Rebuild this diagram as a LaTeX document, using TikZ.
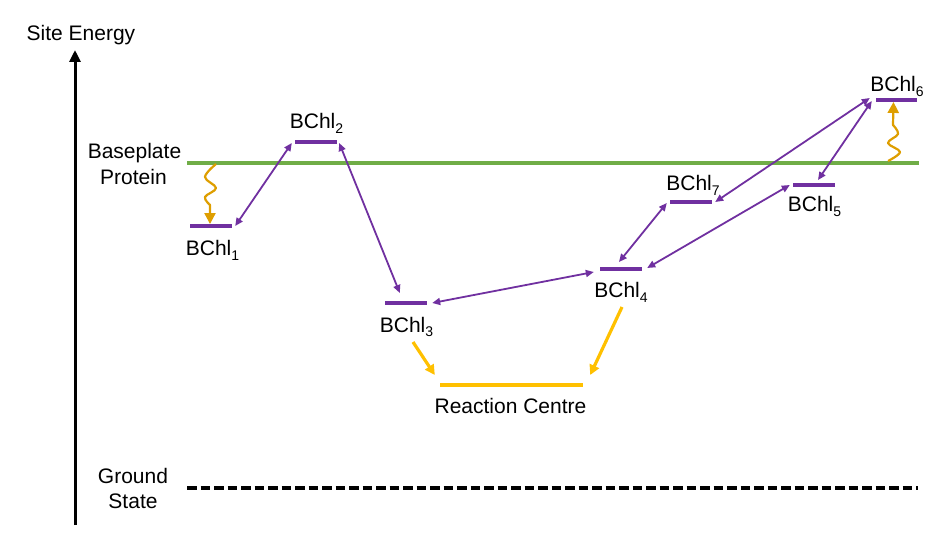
\documentclass[tikz,border=0pt]{standalone}
\usepackage{fontspec}
\setmainfont{Liberation Sans}
\usetikzlibrary{arrows.meta,calc}
\definecolor{lvpurple}{RGB}{112,48,160}
\definecolor{bpgreen}{RGB}{112,173,71}
\definecolor{rcyellow}{RGB}{255,192,0}
\definecolor{wvorange}{RGB}{222,158,0}
\newcommand\lsub[1]{\raisebox{-0.22em}{\fontsize{14}{14}\selectfont #1}}
\begin{document}
\begin{tikzpicture}[x=1pt,y=-1pt,
 txt/.style={font=\fontsize{21}{25}\selectfont, inner sep=0pt, anchor=base},
 level/.style={draw=none, fill=lvpurple, minimum width=42pt, minimum height=3.5pt, inner sep=0pt},
 xfer/.style={lvpurple, line width=1.8pt, {Triangle[length=8pt,width=7pt]}-{Triangle[length=8pt,width=7pt]}},
 trap/.style={rcyellow, line width=3.2pt, -{Triangle[length=10pt,width=10pt]}},
 wavy/.style={wvorange, line width=2.2pt, line join=round, -{Triangle[length=11pt,width=11pt]}},
]
\useasboundingbox (0,0) rectangle (948,556);

% axis
\coordinate (axb) at (75,525);
\coordinate (axt) at (75,50);
\draw[line width=3pt, -{Triangle[length=12pt,width=11pt]}] (axb) -- (axt);
\node[txt] (site) at (81,41) {Site Energy};

% baseplate and ground state
\coordinate (bpL) at (187,163);
\coordinate (bpR) at (919,163);
\draw[bpgreen, line width=3.2pt] (bpL) -- (bpR);
\node[txt] (bp1) at (134.5,159) {Baseplate};
\node[txt] (bp2) at (133.5,185) {Protein};

\coordinate (gsL) at (187,488);
\coordinate (gsR) at (918,488);
\draw[line width=3.3pt, dash pattern=on 9.5pt off 4pt] (gsL) -- (gsR);
\node[txt] (gs1) at (133,483) {Ground};
\node[txt] (gs2) at (133,508) {State};

% levels
\node[level] (b1) at (211,226) {};
\node[level] (b2) at (316,142) {};
\node[level] (b3) at (406,303) {};
\node[level] (b4) at (621,269) {};
\node[level] (b5) at (814,185) {};
\node[level, minimum width=41pt] (b6) at (896.5,100) {};
\node[level] (b7) at (691,202) {};
\node[level, fill=rcyellow, minimum width=143pt] (rc) at (511.5,385) {};

\node[txt] (l1) at (212.5,256) {BChl\lsub{1}};
\node[txt] (l2) at (316.5,129) {BChl\lsub{2}};
\node[txt] (l3) at (406.5,332) {BChl\lsub{3}};
\node[txt] (l4) at (621,298) {BChl\lsub{4}};
\node[txt] (l5) at (814.5,212) {BChl\lsub{5}};
\node[txt] (l6) at (897,92) {BChl\lsub{6}};
\node[txt] (l7) at (693,191) {BChl\lsub{7}};
\node[txt] (lrc) at (510.5,413) {Reaction Centre};

% transfers
\draw[xfer] ($(b1.east)+(3,0)$) -- ($(b2.west)+(-3,1)$);
\draw[xfer] ($(b2.east)+(2,1)$) -- ($(b3.west)+(15,-10)$);
\draw[xfer] ($(b3.east)+(5,0)$) -- ($(b4.west)+(-6,3)$);
\draw[xfer] ($(b4.center)+(-2,-7)$) -- ($(b7.west)+(-3,1)$);
\draw[xfer] ($(b4.east)+(5,-1)$) -- ($(b5.west)+(-3,0)$);
\draw[xfer] ($(b7.east)+(3,0)$) -- ($(b6.west)+(-6,-2)$);
\draw[xfer] ($(b5.center)+(4,-5)$) -- ($(b6.west)+(-4,1)$);

% trapping
\draw[trap] ($(b3.center)+(7,39)$) -- ($(rc.west)+(-5,-10)$);
\draw[trap] ($(b4.center)+(1,38)$) -- ($(rc.east)+(7,-10)$);

% wavy excitations
\draw[wavy] plot[smooth, tension=0.6] coordinates {(216,164) (205,177) (216,188) (205,197) (210,205)} -- ($(b1.north)+(-1,0)$);
\draw[wavy] plot[smooth, tension=0.6] coordinates {(888,161) (900,152) (888,143) (898,134) (893,125)} -- ($(b6.south)+(-3,0)$);
\end{tikzpicture}
\end{document}
